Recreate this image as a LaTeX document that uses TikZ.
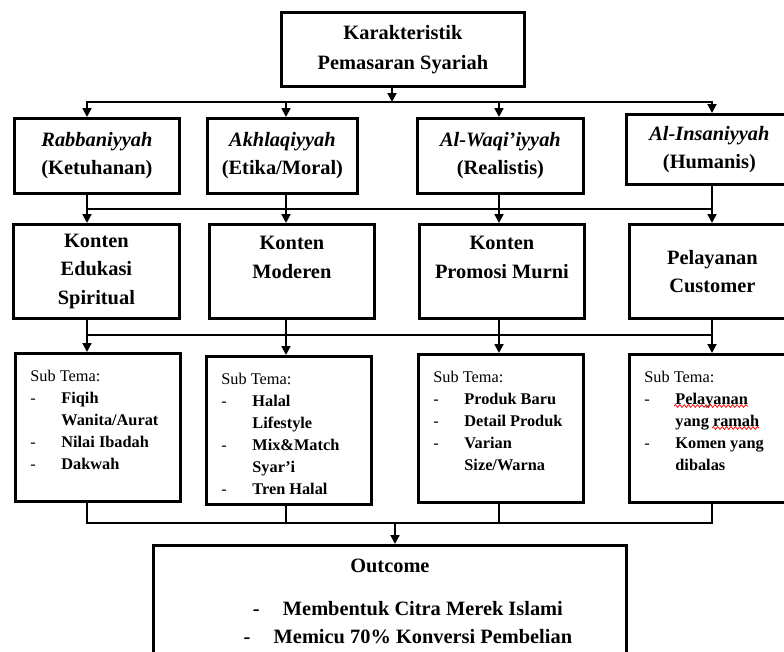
\documentclass[tikz,border=0pt]{standalone}
\usepackage{fontspec}
\setmainfont{Liberation Serif}
\usepackage{xcolor}
\usepackage{tikz}
\usetikzlibrary{arrows.meta,positioning,calc,decorations.pathmorphing}
\newcommand{\boxfont}{\fontsize{14.5}{20}\selectfont\bfseries}
\newcommand{\listfont}{\fontsize{11.6}{15.6}\selectfont}
\newcommand{\dashitem}[1]{\makebox[7.75mm][l]{-}\textbf{#1}}
\newcommand{\moreitem}[1]{\hspace*{7.75mm}\textbf{#1}}
\newcommand{\outitem}[1]{\hspace*{9mm}\makebox[7.5mm][l]{-}#1}
\newcommand{\topfill}[2]{\parbox[t][28.5mm][t]{#1}{\raggedright #2}}
\tikzset{
  box/.style={draw=black,line width=2pt,inner sep=2pt,align=center,font=\boxfont,anchor=north west},
  listbox/.style={box,font=\listfont,align=left,inner xsep=3.75mm,inner ysep=4.25mm},
  wire/.style={line width=1.4pt,line cap=rect},
  arr/.style={wire,-{Triangle[length=2.2mm,width=2.2mm]}},
  squiggle/.style={red,line width=0.5pt,decorate,decoration={snake,amplitude=0.35mm,segment length=1.1mm}},
}

\begin{document}
\begin{tikzpicture}[x=0.25mm,y=-0.25mm]
  \path[use as bounding box] (0,0) rectangle (784,651);
  \clip (0,0) rectangle (784,651);
  % top
  \node[box,minimum width=60.75mm,minimum height=18.5mm,font=\fontsize{14.5}{21.3}\selectfont\bfseries] (top) at (280,11) {Karakteristik\\Pemasaran Syariah};
  % row 1
  \node[box,minimum width=41.25mm,minimum height=18.75mm] (r1a) at (13,117) {\textit{Rabbaniyyah}\\(Ketuhanan)};
  \node[box,minimum width=37.5mm,minimum height=18.75mm] (r1b) at (206,117) {\textit{Akhlaqiyyah}\\(Etika/Moral)};
  \node[box,minimum width=41.5mm,minimum height=18.75mm] (r1c) at (416,117) {\textit{Al-Waqi’iyyah}\\(Realistis)};
  \node[box,minimum width=41.5mm,minimum height=17.5mm] (r1d) at (625,113) {\textit{Al-Insaniyyah}\\(Humanis)};
  % row 2
  \node[box,minimum width=41.5mm,minimum height=23.5mm] (r2a) at (12,223) {Konten\\Edukasi\\Spiritual};
  \node[box,minimum width=41.25mm,minimum height=23.5mm] (r2b) at (208,223) {Konten\\Moderen\\\mbox{}};
  \node[box,minimum width=41.25mm,minimum height=23.5mm] (r2c) at (418,223) {Konten\\Promosi Murni\\\mbox{}};
  \node[box,minimum width=41.5mm,minimum height=23.5mm] (r2d) at (628,223) {Pelayanan\\Customer};
  % row 3
  \node[listbox,minimum width=41.25mm,minimum height=37mm] (r3a) at (14,352) {\topfill{33.75mm}{Sub Tema:\\
    \dashitem{Fiqih}\\ \moreitem{Wanita/Aurat}\\ \dashitem{Nilai Ibadah}\\ \dashitem{Dakwah}}};
  \node[listbox,minimum width=41.25mm,minimum height=37mm] (r3b) at (205,355) {\topfill{33.75mm}{Sub Tema:\\
    \dashitem{Halal}\\ \moreitem{Lifestyle}\\ \dashitem{Mix\&Match}\\ \moreitem{Syar’i}\\ \dashitem{Tren Halal}}};
  \node[listbox,minimum width=41.25mm,minimum height=37mm] (r3c) at (417,353) {\topfill{33.75mm}{Sub Tema:\\
    \dashitem{Produk Baru}\\ \dashitem{Detail Produk}\\ \dashitem{Varian}\\ \moreitem{Size/Warna}}};
  \node[listbox,minimum width=41.5mm,minimum height=37mm] (r3d) at (628,353) {\topfill{34mm}{Sub Tema:\\
    \dashitem{Pelayanan}\\ \moreitem{yang ramah}\\ \dashitem{Komen yang}\\ \moreitem{dibalas}}};
  % spell-check marks
  \draw[squiggle] ($(r3d.north west)+(46,53)$) -- ++(74,0);
  \draw[squiggle] ($(r3d.north west)+(84,75)$) -- ++(47,0);
  % outcome
  \node[box,minimum width=118.25mm,minimum height=28mm] (out) at (152,544) {Outcome\\[10.8pt]
    \outitem{Membentuk Citra Merek Islami}\\ \outitem{Memicu 70\% Konversi Pembelian}};

  % connectors
  \foreach \c/\x in {a/87,b/286,c/499,d/712}
    \coordinate (col\c) at (\x,0);
  \coordinate (bus0) at (0,102);
  \coordinate (bus1) at (0,209);
  \coordinate (bus2) at (0,335);
  \coordinate (bus3) at (0,523);
  \coordinate (tap) at (392,0);
  \coordinate (drop) at (395,0);
  \draw[arr] (top.south -| tap) -- (bus0 -| tap);
  \foreach \k in {0,1,2,3}
    \draw[wire] (bus\k -| cola) -- (bus\k -| cold);
  \foreach \c in {a,b,c,d}{
    \draw[arr] (bus0 -| col\c) -- (r1\c.north -| col\c);
    \draw[wire] (r1\c.south -| col\c) -- (bus1 -| col\c);
    \draw[arr] (bus1 -| col\c) -- (r2\c.north -| col\c);
    \draw[wire] (r2\c.south -| col\c) -- (bus2 -| col\c);
    \draw[arr] (bus2 -| col\c) -- (r3\c.north -| col\c);
    \draw[wire] (r3\c.south -| col\c) -- (bus3 -| col\c);
  }
  \draw[arr] (bus3 -| drop) -- (out.north -| drop);
\end{tikzpicture}
\end{document}
